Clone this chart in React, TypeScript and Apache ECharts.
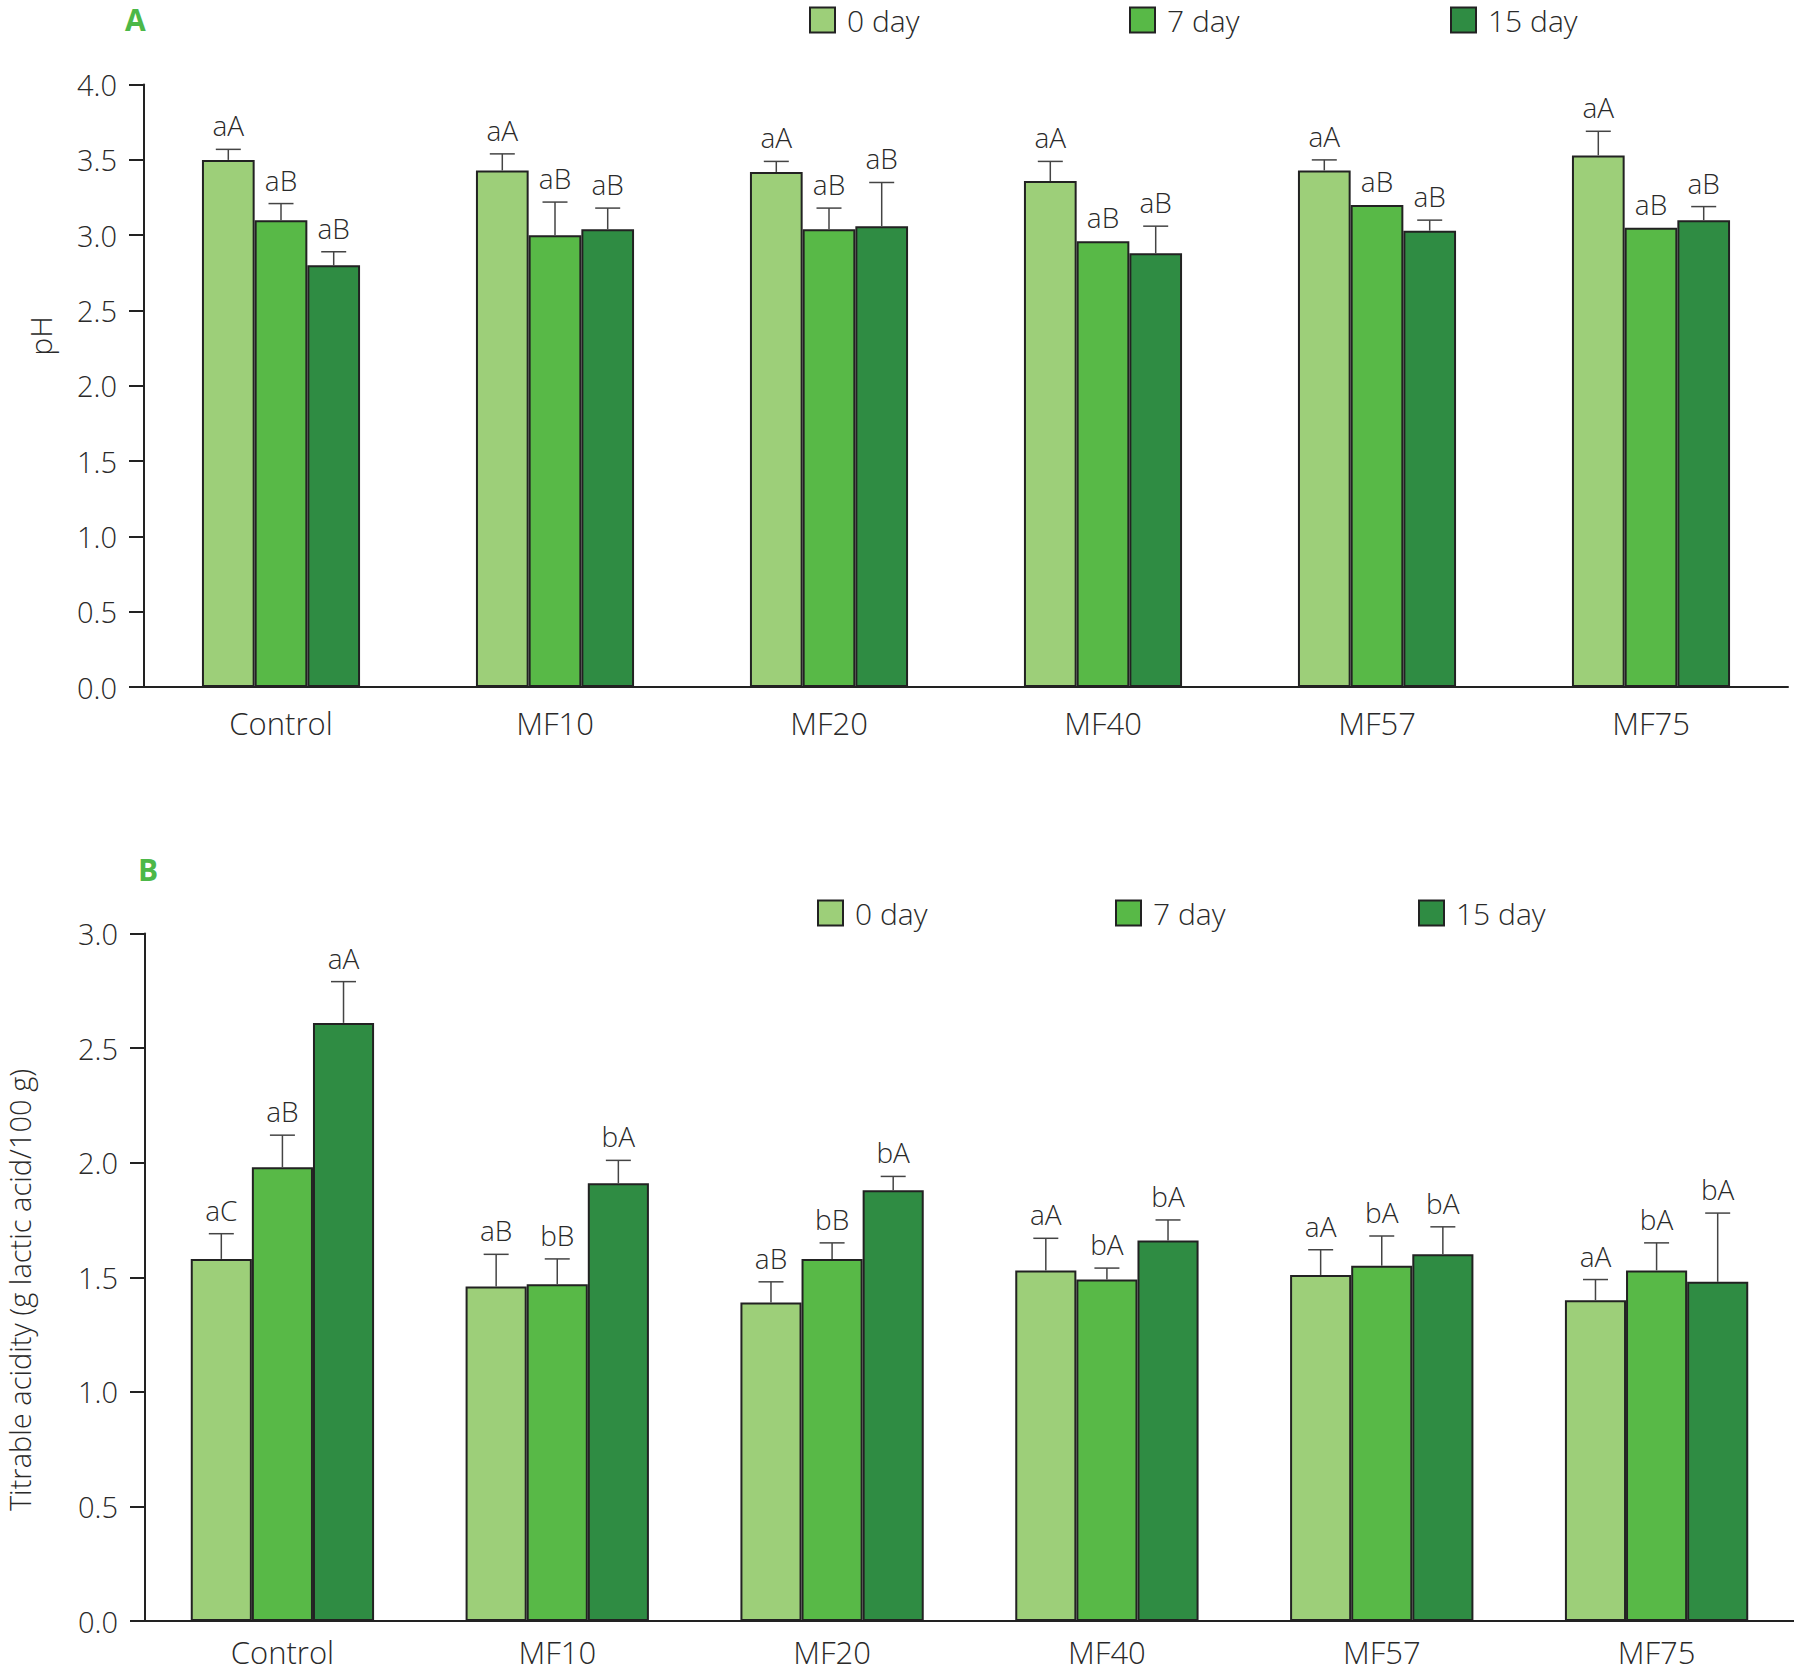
import React, { useEffect, useRef } from "react";
import * as echarts from "echarts";

const categories = ["Control", "MF10", "MF20", "MF40", "MF57", "MF75"];
const dayNames = ["0 day", "7 day", "15 day"];
const dayColors = ["#9dcf79", "#58b947", "#2f8c43"];
const yTicksA = { min: 0, max: 4, interval: 0.5 };
const yTicksB = { min: 0, max: 3, interval: 0.5 };

// Panel A: pH
const phDay0 = [3.5, 3.43, 3.42, 3.36, 3.43, 3.53];
const phDay7 = [3.1, 3.0, 3.04, 2.96, 3.2, 3.05];
const phDay15 = [2.8, 3.04, 3.06, 2.88, 3.03, 3.1];
const phErr0 = [0.07, 0.11, 0.07, 0.13, 0.07, 0.16];
const phErr7 = [0.11, 0.22, 0.14, 0, 0, 0];
const phErr15 = [0.09, 0.14, 0.29, 0.18, 0.07, 0.09];
const phLetters0 = ["aA", "aA", "aA", "aA", "aA", "aA"];
const phLetters7 = ["aB", "aB", "aB", "aB", "aB", "aB"];
const phLetters15 = ["aB", "aB", "aB", "aB", "aB", "aB"];

// Panel B: titrable acidity
const taDay0 = [1.58, 1.46, 1.39, 1.53, 1.51, 1.4];
const taDay7 = [1.98, 1.47, 1.58, 1.49, 1.55, 1.53];
const taDay15 = [2.61, 1.91, 1.88, 1.66, 1.6, 1.48];
const taErr0 = [0.11, 0.14, 0.09, 0.14, 0.11, 0.09];
const taErr7 = [0.14, 0.11, 0.07, 0.05, 0.13, 0.12];
const taErr15 = [0.18, 0.1, 0.06, 0.09, 0.12, 0.3];
const taLetters0 = ["aC", "aB", "aB", "aA", "aA", "aA"];
const taLetters7 = ["aB", "bB", "bB", "bA", "bA", "bA"];
const taLetters15 = ["aA", "bA", "bA", "bA", "bA", "bA"];

const FONT = "'Open Sans', 'Noto Sans', sans-serif";
const TXT = "#2a2a2a";

function barSeries(name: string, axis: number, idx: number, values: number[], gap: string) {
  return {
    type: "bar",
    name,
    xAxisIndex: axis,
    yAxisIndex: axis,
    data: values,
    barGap: "0%",
    barCategoryGap: gap,
    itemStyle: { color: dayColors[idx], borderColor: "#222", borderWidth: 2 },
    silent: true,
    z: 2,
  };
}

function errSeries(
  name: string,
  axis: number,
  idx: number,
  values: number[],
  errs: number[],
  letters: string[],
  gapFrac: number
) {
  return {
    type: "custom",
    name: name + " err",
    xAxisIndex: axis,
    yAxisIndex: axis,
    silent: true,
    z: 5,
    data: values.map((v, i) => [i, v, errs[i]]),
    renderItem: (params: any, api: any) => {
      const i = params.dataIndex;
      const v = api.value(1);
      const e = api.value(2);
      const base = api.coord([api.value(0), v]);
      const top = api.coord([api.value(0), v + e]);
      const band = api.size([1, 0])[0];
      const bw = (band * (1 - gapFrac)) / 3;
      const x = base[0] + (idx - 1) * bw;
      const children: any[] = [];
      if (e > 0) {
        children.push({
          type: "line",
          shape: { x1: x, y1: base[1], x2: x, y2: top[1] },
          style: { stroke: "#444", lineWidth: 1.5 },
        });
        children.push({
          type: "line",
          shape: { x1: x - 12.5, y1: top[1], x2: x + 12.5, y2: top[1] },
          style: { stroke: "#444", lineWidth: 1.5 },
        });
      }
      children.push({
        type: "text",
        x,
        y: top[1] - 10,
        style: {
          text: letters[i],
          fill: TXT,
          fontSize: 28,
          fontFamily: FONT,
          fontWeight: 300,
          align: "center",
          verticalAlign: "bottom",
        },
      });
      return { type: "group", children };
    },
  };
}

function legendItem(name: string, left: number, top: number) {
  return {
    data: [name],
    left,
    top,
    padding: 0,
    icon: "rect",
    itemWidth: 25,
    itemHeight: 25,
    itemStyle: { borderColor: "#222", borderWidth: 2 },
    textStyle: {
      fontSize: 30,
      fontFamily: FONT,
      fontWeight: 300,
      color: TXT,
      padding: [0, 0, 0, 7],
      lineHeight: 30,
    },
    selectedMode: false,
  };
}

function yAxis(grid: number, ticks: { min: number; max: number; interval: number }) {
  return {
    type: "value",
    gridIndex: grid,
    min: ticks.min,
    max: ticks.max,
    interval: ticks.interval,
    splitLine: { show: false },
    axisLine: { show: true, lineStyle: { color: "#222", width: 2 } },
    axisTick: { show: true, length: 15, lineStyle: { color: "#222", width: 2 } },
    axisLabel: {
      formatter: (v: number) => v.toFixed(1),
      fontSize: 29,
      fontFamily: FONT,
      fontWeight: 300,
      color: TXT,
      margin: 27,
    },
  };
}

function xAxis(grid: number, margin: number) {
  return {
    type: "category",
    gridIndex: grid,
    data: categories,
    axisLine: { show: true, lineStyle: { color: "#222", width: 2 } },
    axisTick: { show: false },
    axisLabel: {
      fontSize: 31,
      fontFamily: FONT,
      fontWeight: 300,
      color: TXT,
      margin,
      lineHeight: 34,
    },
  };
}

export default function App() {
  const ref = useRef<HTMLDivElement>(null);
  useEffect(() => {
    if (!ref.current) return;
    const chart = echarts.init(ref.current, undefined, { renderer: "svg" });
    const dataA = [phDay0, phDay7, phDay15];
    const errA = [phErr0, phErr7, phErr15];
    const letA = [phLetters0, phLetters7, phLetters15];
    const dataB = [taDay0, taDay7, taDay15];
    const errB = [taErr0, taErr7, taErr15];
    const letB = [taLetters0, taLetters7, taLetters15];
    const series: any[] = [];
    dayNames.forEach((n, i) => {
      series.push(barSeries(n, 0, i, dataA[i], "42.3%"));
      series.push(barSeries(n, 1, i, dataB[i], "33.3%"));
    });
    dayNames.forEach((n, i) => {
      series.push(errSeries(n, 0, i, dataA[i], errA[i], letA[i], 0.423));
      series.push(errSeries(n, 1, i, dataB[i], errB[i], letB[i], 0.333));
    });
    chart.setOption({
      animation: false,
      backgroundColor: "#ffffff",
      grid: [
        { left: 144, top: 84.6, width: 1644, height: 602.4 },
        { left: 145, top: 933.5, width: 1649, height: 687.5 },
      ],
      xAxis: [xAxis(0, 19), xAxis(1, 14)],
      yAxis: [yAxis(0, yTicksA), yAxis(1, yTicksB)],
      legend: [
        legendItem("0 day", 809, 5),
        legendItem("7 day", 1129, 5),
        legendItem("15 day", 1450, 5),
        legendItem("0 day", 817, 898),
        legendItem("7 day", 1115, 898),
        legendItem("15 day", 1418, 898),
      ],
      graphic: [
        {
          type: "text",
          x: 125,
          y: 4,
          style: { text: "A", fontSize: 30, fontWeight: "bold", fontFamily: FONT, fill: "#4cb848" },
        },
        {
          type: "text",
          x: 138,
          y: 854,
          style: { text: "B", fontSize: 30, fontWeight: "bold", fontFamily: FONT, fill: "#4cb848" },
        },
        {
          type: "text",
          x: 40,
          y: 336,
          rotation: Math.PI / 2,
          style: {
            text: "pH",
            fontSize: 30,
            fontFamily: FONT,
            fontWeight: 300,
            fill: TXT,
            align: "center",
            verticalAlign: "middle",
          },
        },
        {
          type: "text",
          x: 19,
          y: 1290,
          rotation: Math.PI / 2,
          style: {
            text: "Titrable acidity (g lactic acid/100 g)",
            fontSize: 29,
            lineHeight: 30,
            fontFamily: FONT,
            fontWeight: 300,
            fill: TXT,
            align: "center",
            verticalAlign: "middle",
          },
        },
      ],
      series,
    });
    return () => chart.dispose();
  }, []);
  return (
    <div
      ref={ref}
      style={{ position: "absolute", left: 0, top: 0, width: 1794, height: 1673 }}
    />
  );
}
